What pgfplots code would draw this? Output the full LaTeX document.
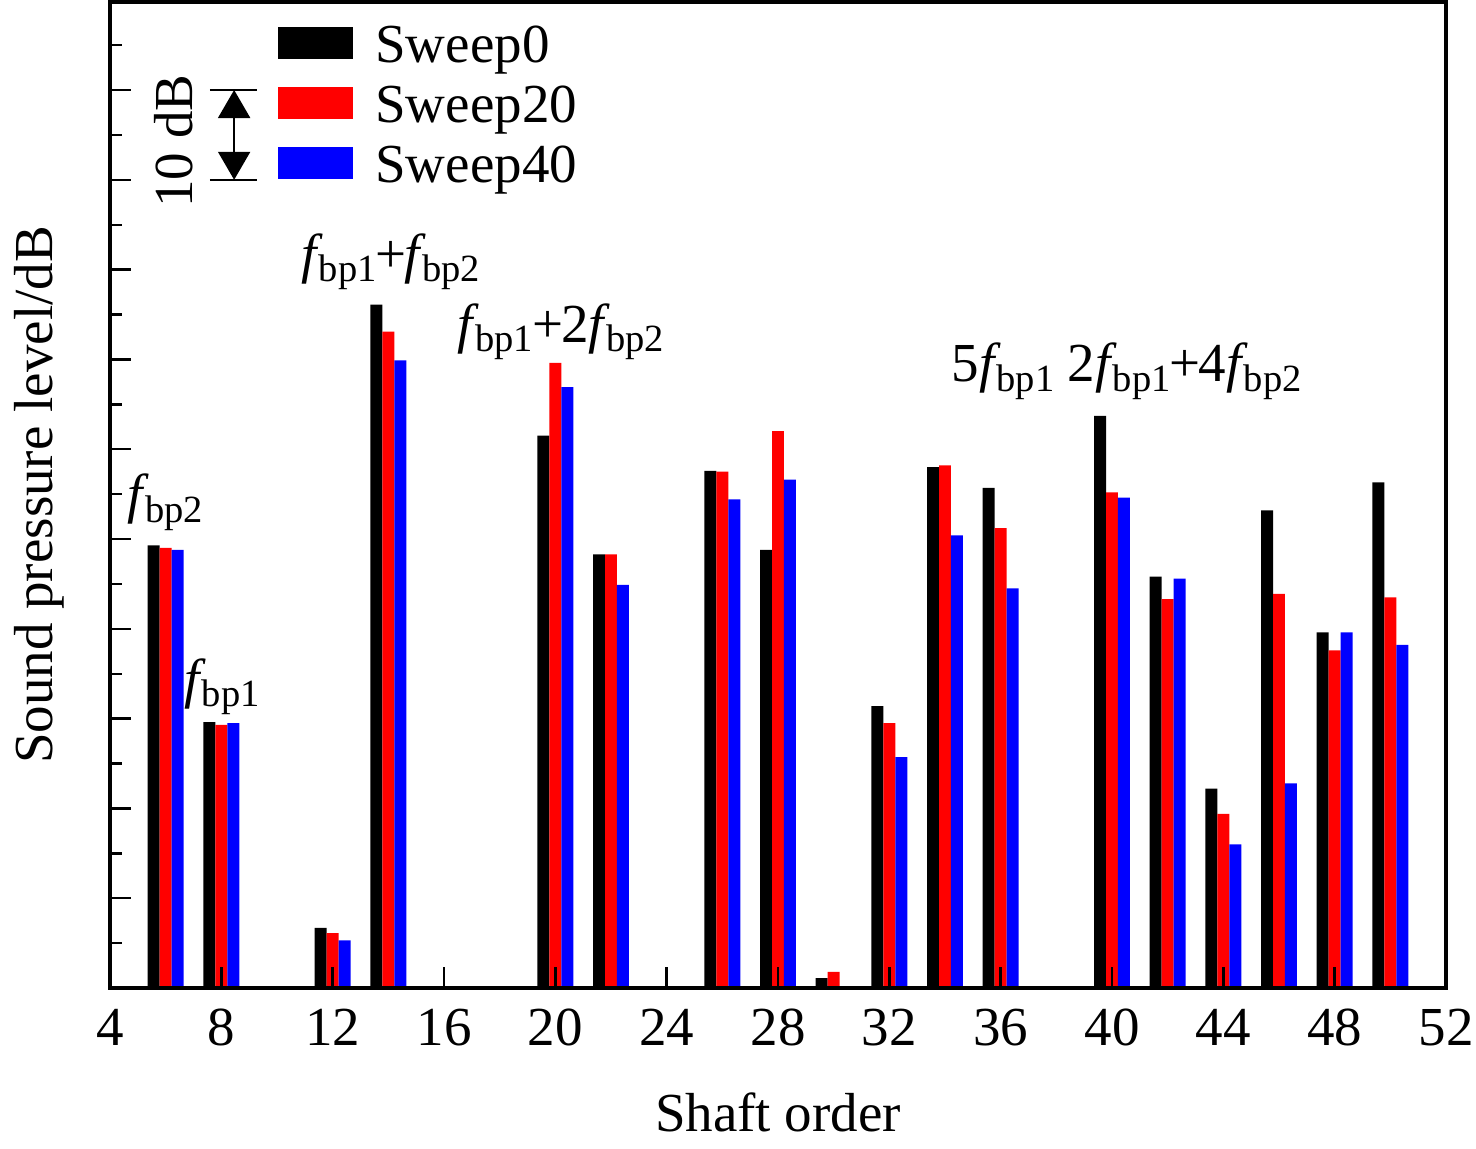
\documentclass[border=0pt]{standalone}
\usepackage{fontspec}
\setmainfont{Liberation Serif}
\usepackage{pgfplots}
\usepackage{pgfplotstable}
\pgfplotsset{compat=1.18}
\usetikzlibrary{arrows.meta}

\pgfplotstableread{
x  s0   s20  s40
6  49.3 49.0 48.8
8  29.6 29.3 29.5
12 6.7  6.1  5.3
14 76.1 73.1 69.9
20 61.5 69.6 66.9
22 48.3 48.3 44.9
26 57.6 57.5 54.4
28 48.8 62.0 56.6
30 1.1  1.8  0
32 31.4 29.5 25.7
34 58.0 58.2 50.4
36 55.7 51.2 44.5
40 63.7 55.2 54.6
42 45.8 43.3 45.6
44 22.2 19.4 16.0
46 53.2 43.9 22.8
48 39.6 37.6 39.6
50 56.3 43.5 38.2
}\datatable

\newcommand{\fb}[1]{\textit{f}\kern-2pt\textsubscript{bp#1}}

\begin{document}
\fontsize{27.5pt}{33pt}\selectfont
\begin{tikzpicture}
\begin{axis}[
  at={(0,0)}, anchor=south west,
  scale only axis, width=668pt, height=493pt,
  xmin=4, xmax=52, ymin=0, ymax=109.8,
  enlargelimits=false,
  xtick={4,8,...,52},
  ytick={0,10,...,100}, yticklabels={},
  minor ytick={5,15,...,105},
  tick align=inside, tick pos=left,
  major tick length=10.5pt, minor tick length=6pt,
  tick style={black, line width=1.2pt},
  axis line style={line width=1.8pt},
  axis on top,
  clip=false,
  /pgf/number format/assume math mode=true,
  xticklabel style={anchor=base, yshift=-28.5pt},
  every axis x label/.style={at={(axis description cs:0.5,-0.146)}, anchor=base},
  every axis y label/.style={at={(axis description cs:-0.0434,0.5)}, rotate=90, anchor=base},
  xlabel={Shaft order},
  ylabel={Sound pressure level/dB},
  legend image code/.code={\draw[#1, draw=none] (0pt,-8pt) rectangle (37.5pt,8pt);},
  legend cell align=left,
  legend style={draw=none, fill=none, at={(axis description cs:0,1)}, anchor=north west,
    xshift=84pt, yshift=-5.5pt, inner sep=0pt, row sep=0pt, column sep=11pt,
    nodes={inner sep=0pt, text height=24.5pt, text depth=5.5pt}},
]
\addplot[ybar, bar width=0.43, bar shift=-0.43, fill=black, draw=none] table[x=x, y=s0] {\datatable};
\addplot[ybar, bar width=0.43, bar shift=0, fill=red, draw=none] table[x=x, y=s20] {\datatable};
\addplot[ybar, bar width=0.43, bar shift=0.43, fill=blue, draw=none] table[x=x, y=s40] {\datatable};
\legend{Sweep0, Sweep20, Sweep40}

\node[anchor=base] at (axis cs:6.0,52.9) {\fb{2}};
\node[anchor=base] at (axis cs:8.04,32.4) {\fb{1}};
\node[anchor=base] at (axis cs:14.1,79.7) {\fb{1}\kern-1pt+\kern-1pt\fb{2}};
\node[anchor=base] at (axis cs:20.22,71.9) {\fb{1}\kern-1pt+\kern-1pt2\fb{2}};
\node[anchor=base] at (axis cs:36.1,67.5) {5\fb{1}};
\node[anchor=base] at (axis cs:42.63,67.5) {2\fb{1}\kern-1pt+\kern-1pt4\fb{2}};

\node[rotate=90, anchor=base] at (axis cs:6.95,94.3) {10 dB};
\draw[line width=1.2pt] (axis cs:7.59,100) -- (axis cs:9.28,100);
\draw[line width=1.2pt] (axis cs:7.59,90) -- (axis cs:9.28,90);
\draw[line width=1pt, {Triangle[width=16pt,length=14pt]}-{Triangle[width=16pt,length=14pt]}] (axis cs:8.46,100) -- (axis cs:8.46,90);
\end{axis}
\pgfresetboundingbox
\useasboundingbox (-55pt,-80pt) rectangle (683pt,494pt);
\end{tikzpicture}
\end{document}
